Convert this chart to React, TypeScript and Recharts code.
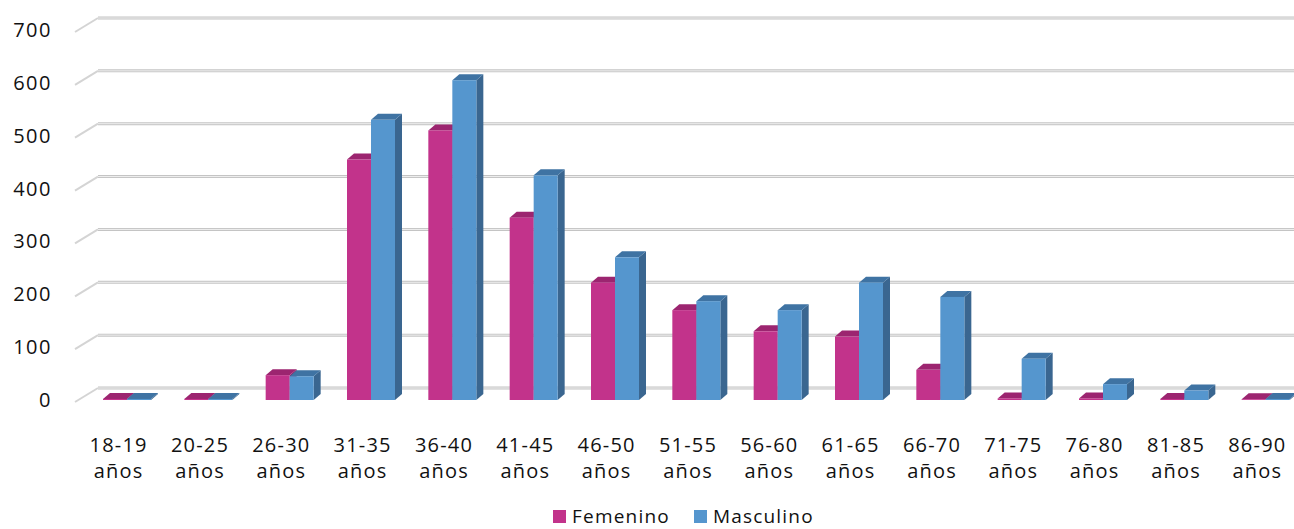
import React from "react";
import { BarChart, Bar, XAxis, YAxis, CartesianGrid } from "recharts";

const categories = ["18-19", "20-25", "26-30", "31-35", "36-40", "41-45", "46-50", "51-55", "56-60", "61-65", "66-70", "71-75", "76-80", "81-85", "86-90"];
const femenino = [2, 2, 47, 455, 510, 345, 222, 170, 130, 120, 57, 3, 3, 2, 1];
const masculino = [2, 2, 45, 530, 605, 425, 270, 187, 170, 222, 195, 78, 30, 18, 2];
const yTicks = [0, 100, 200, 300, 400, 500, 600, 700];

const data = categories.map((c, i) => ({ cat: c, Femenino: femenino[i], Masculino: masculino[i] }));

const PINK = "#C2338B";
const PINK_TOP = "#9C2570";
const PINK_SIDE = "#8E2066";
const BLUE = "#5596CE";
const BLUE_TOP = "#3F73A3";
const BLUE_SIDE = "#3A6690";
const FONT = "'Open Sans', Lato, sans-serif";

const DX = 7;
const DY = 6;
const SHIFT = 8;

const make3D = (front: string, top: string, side: string) => (props: any) => {
  const { x, y, width, height } = props;
  if (x == null || y == null) return null;
  const xx = x + SHIFT;
  const h = Math.max(height, 0.8);
  const yy = y + height - h;
  const b = yy + h;
  return (
    <g>
      <polygon points={`${xx + width},${yy} ${xx + width + DX},${yy - DY} ${xx + width + DX},${b - DY} ${xx + width},${b}`} fill={side} />
      <polygon points={`${xx},${yy} ${xx + DX},${yy - DY} ${xx + width + DX},${yy - DY} ${xx + width},${yy}`} fill={top} />
      <rect x={xx} y={yy} width={width} height={h} fill={front} />
    </g>
  );
};

const GridLine = (props: any) => {
  const { x1, y1, x2 } = props;
  const bx = x1 + 20;
  const by = y1 - 12;
  return (
    <g key={props.key}>
      <line x1={x1 - 3} y1={y1 + 2} x2={bx} y2={by} stroke="#d4d4d4" strokeWidth={2} />
      <line x1={bx} y1={by} x2={x2} y2={by} stroke="#c4c4c4" strokeWidth={3} />
      <line x1={bx} y1={by} x2={x2} y2={by} stroke="#efefef" strokeWidth={1} />
    </g>
  );
};

const YTick = (props: any) => {
  const { x, y, payload } = props;
  return (
    <text x={x - 18} y={y} dy={7} textAnchor="end" fontFamily={FONT} fontSize={20} letterSpacing={1.5} fill="#111">
      {payload.value}
    </text>
  );
};

const XTick = (props: any) => {
  const { x, y, payload } = props;
  return (
    <g>
      <text x={x} y={y + 44} textAnchor="middle" fontFamily={FONT} fontSize={20} letterSpacing={1.2} fill="#111">
        {payload.value}
      </text>
      <text x={x} y={y + 70} textAnchor="middle" fontFamily={FONT} fontSize={20} letterSpacing={1.2} fill="#111">
        años
      </text>
    </g>
  );
};

const LegendBox = () => (
  <div style={{ position: "absolute", top: 505, left: 553, height: 22, display: "flex", fontFamily: FONT, fontSize: 19, letterSpacing: 1.2, color: "#111", lineHeight: "22px" }}>
    <div style={{ display: "flex", alignItems: "center", marginRight: 24 }}>
      <span style={{ width: 13, height: 13, background: PINK, display: "inline-block", marginRight: 6 }} />
      <span>Femenino</span>
    </div>
    <div style={{ display: "flex", alignItems: "center" }}>
      <span style={{ width: 13, height: 13, background: BLUE, display: "inline-block", marginRight: 6 }} />
      <span>Masculino</span>
    </div>
  </div>
);

export default function App() {
  return (
    <div style={{ position: "absolute", top: 0, left: 0, width: 1294, height: 529, overflow: "hidden", background: "#fff" }}>
      <BarChart
        width={1298}
        height={529}
        data={data}
        margin={{ top: 30, right: 0, bottom: 99, left: 0 }}
        barGap={0}
        barCategoryGap="20%"
        barSize={24}
      >
        <CartesianGrid vertical={false} horizontal={GridLine as any} />
        <XAxis dataKey="cat" axisLine={false} tickLine={false} tick={<XTick />} interval={0} height={30} />
        <YAxis domain={[0, 700]} ticks={yTicks} axisLine={false} tickLine={false} width={78} tick={<YTick />} />
        <Bar dataKey="Femenino" fill={PINK} shape={make3D(PINK, PINK_TOP, PINK_SIDE)} isAnimationActive={false} />
        <Bar dataKey="Masculino" fill={BLUE} shape={make3D(BLUE, BLUE_TOP, BLUE_SIDE)} isAnimationActive={false} />
      </BarChart>
      <LegendBox />
    </div>
  );
}
